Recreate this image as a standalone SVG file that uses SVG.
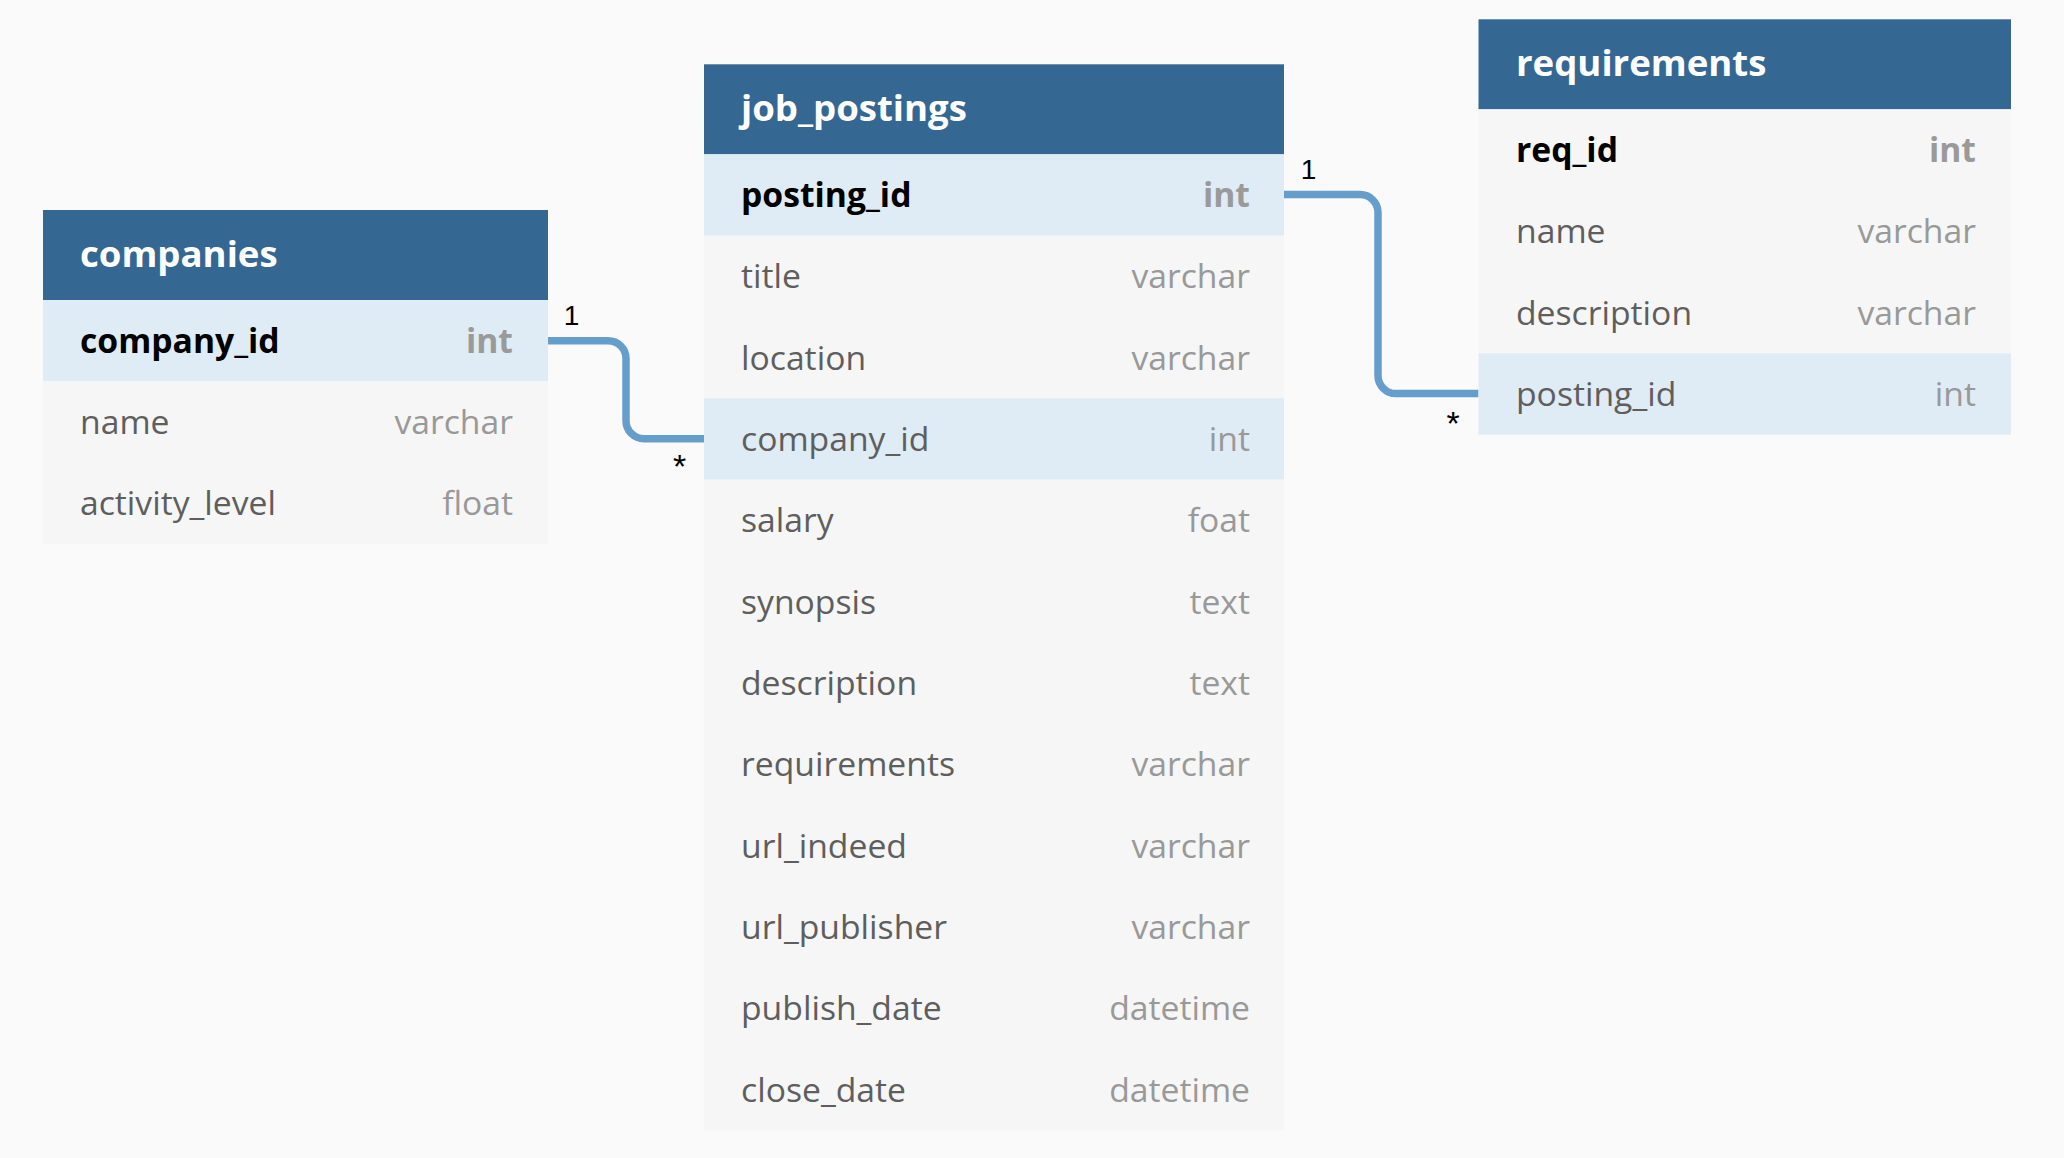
<svg xmlns="http://www.w3.org/2000/svg" width="2064" height="1158" viewBox="0 0 2064 1158">
<style>
.bg{fill:#fafafa}
.hdr{fill:#346893}
.row{fill:#f6f6f6}
.hl{fill:#dfebf5}
.title{font-family:"Open Sans","Noto Sans",sans-serif;font-size:36.6px;font-weight:700;fill:#ffffff}
.fn{font-family:"Open Sans","Noto Sans",sans-serif;font-size:33.7px;fill:#5e5e5e}
.ft{font-family:"Open Sans","Noto Sans",sans-serif;font-size:33.7px;fill:#999999;text-anchor:end}
.pk{font-weight:700;fill:#000000}
.pkt{font-weight:700;fill:#9a9a9a}
.conn{fill:none;stroke:#659dcb;stroke-width:7.5}
.card{font-family:"Liberation Sans",Arial,sans-serif;font-size:28px;fill:#000000;text-anchor:middle}
.star{font-family:"Liberation Sans",Arial,sans-serif;font-size:34px;fill:#000000;text-anchor:middle}
</style>
<rect class="bg" x="0" y="0" width="2064" height="1158"/>

<g id="connectors">
  <path class="conn" d="M548 340.7 H608 A18 18 0 0 1 626 358.7 V420.7 A18 18 0 0 0 644 438.7 H704.5"/>
  <path class="conn" d="M1284 194.6 H1360 A18 18 0 0 1 1378 212.6 V375.6 A18 18 0 0 0 1396 393.6 H1478.5"/>
  <text class="card" x="571.5" y="325">1</text>
  <text class="star" x="679.5" y="477.5">*</text>
  <text class="card" x="1308.5" y="179">1</text>
  <text class="star" x="1453" y="434.5">*</text>
</g>

<g id="companies" transform="translate(43,210)">
  <rect class="hdr" x="0" y="0" width="505" height="90"/>
  <text class="title" x="37" y="57">companies</text>
  <rect class="hl" x="0" y="90" width="505" height="81.33"/>
  <rect class="row" x="0" y="171.33" width="505" height="162.67"/>
  <text class="fn pk" x="37" y="142.7">company_id</text><text class="ft pkt" x="470" y="142.7">int</text>
  <text class="fn" x="37" y="224">name</text><text class="ft" x="470" y="224">varchar</text>
  <text class="fn" x="37" y="305.3">activity_level</text><text class="ft" x="470" y="305.3">float</text>
</g>

<g id="job_postings" transform="translate(704,64.3)">
  <rect class="hdr" x="0" y="0" width="580" height="90"/>
  <text class="title" x="37" y="57">job_postings</text>
  <rect class="hl" x="0" y="90" width="580" height="81.33"/>
  <rect class="row" x="0" y="171.33" width="580" height="162.67"/>
  <rect class="hl" x="0" y="334" width="580" height="81.33"/>
  <rect class="row" x="0" y="415.33" width="580" height="650.67"/>
  <text class="fn pk" x="37" y="142.7">posting_id</text><text class="ft pkt" x="546" y="142.7">int</text>
  <text class="fn" x="37" y="224">title</text><text class="ft" x="546" y="224">varchar</text>
  <text class="fn" x="37" y="305.3">location</text><text class="ft" x="546" y="305.3">varchar</text>
  <text class="fn" x="37" y="386.7">company_id</text><text class="ft" x="546" y="386.7">int</text>
  <text class="fn" x="37" y="468">salary</text><text class="ft" x="546" y="468">foat</text>
  <text class="fn" x="37" y="549.3">synopsis</text><text class="ft" x="546" y="549.3">text</text>
  <text class="fn" x="37" y="630.7">description</text><text class="ft" x="546" y="630.7">text</text>
  <text class="fn" x="37" y="712">requirements</text><text class="ft" x="546" y="712">varchar</text>
  <text class="fn" x="37" y="793.3">url_indeed</text><text class="ft" x="546" y="793.3">varchar</text>
  <text class="fn" x="37" y="874.7">url_publisher</text><text class="ft" x="546" y="874.7">varchar</text>
  <text class="fn" x="37" y="956">publish_date</text><text class="ft" x="546" y="956">datetime</text>
  <text class="fn" x="37" y="1037.3">close_date</text><text class="ft" x="546" y="1037.3">datetime</text>
</g>

<g id="requirements" transform="translate(1478.5,19.3)">
  <rect class="hdr" x="0" y="0" width="532.5" height="90"/>
  <text class="title" x="37.5" y="57">requirements</text>
  <rect class="row" x="0" y="90" width="532.5" height="244"/>
  <rect class="hl" x="0" y="334" width="532.5" height="81.33"/>
  <text class="fn pk" x="37.5" y="142.7">req_id</text><text class="ft pkt" x="497.5" y="142.7">int</text>
  <text class="fn" x="37.5" y="224">name</text><text class="ft" x="497.5" y="224">varchar</text>
  <text class="fn" x="37.5" y="305.3">description</text><text class="ft" x="497.5" y="305.3">varchar</text>
  <text class="fn" x="37.5" y="386.7">posting_id</text><text class="ft" x="497.5" y="386.7">int</text>
</g>
</svg>
